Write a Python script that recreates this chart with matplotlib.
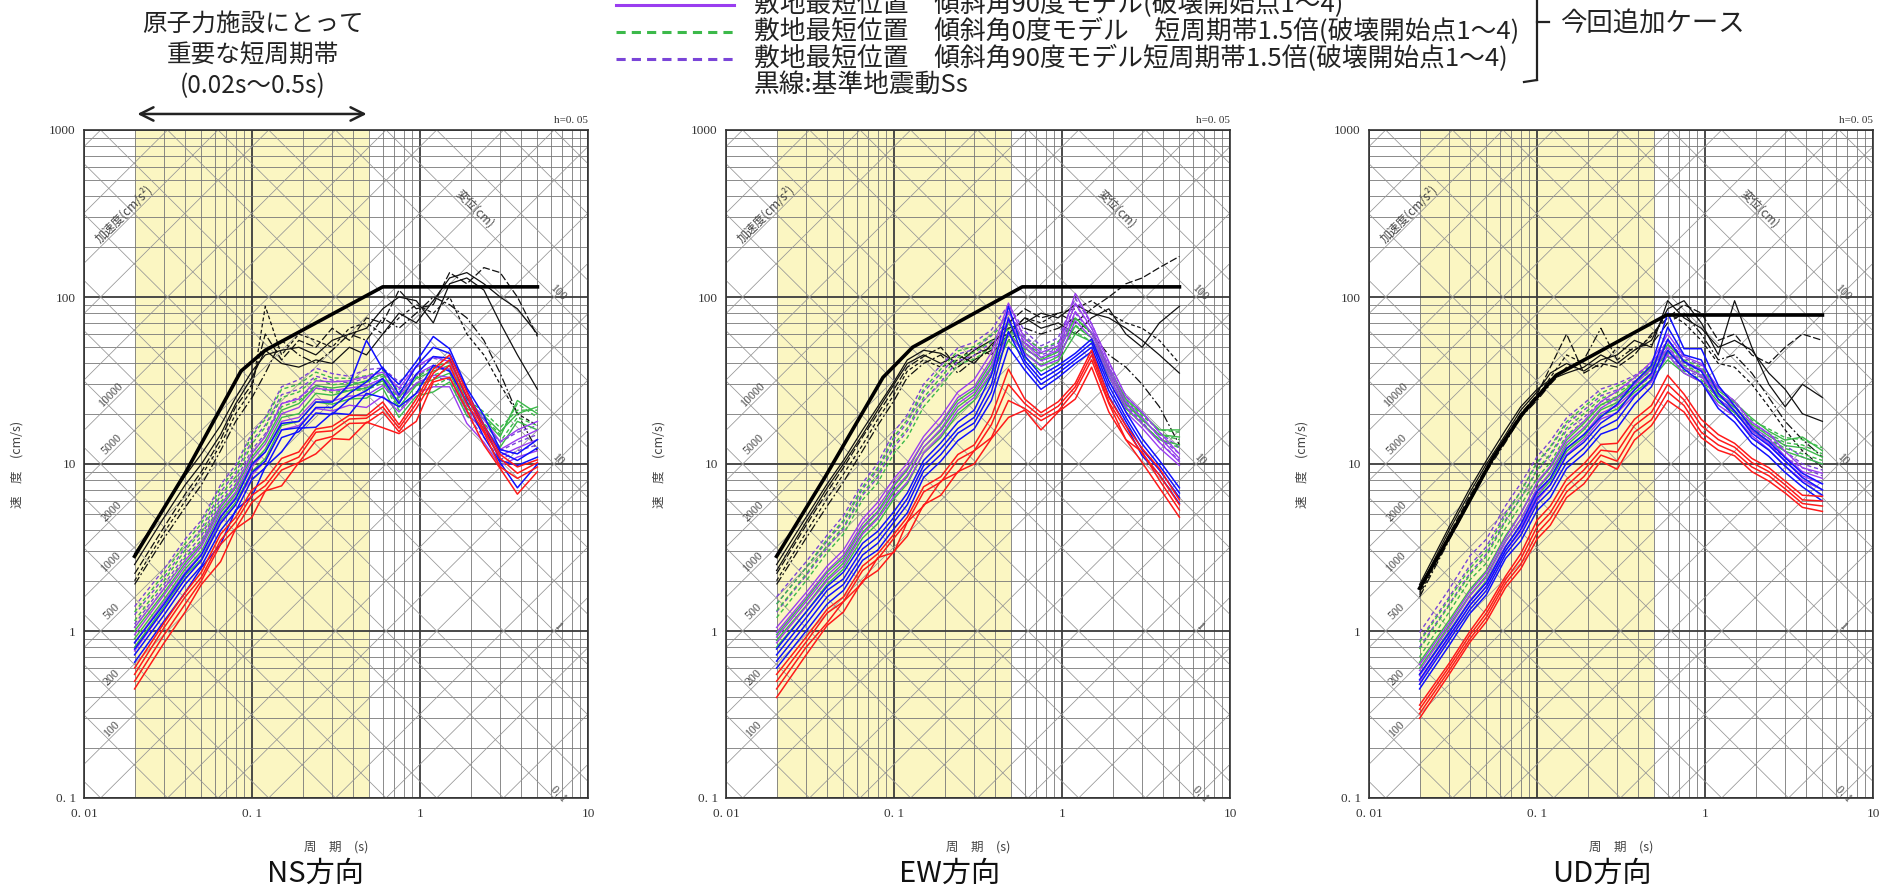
import numpy as np
import matplotlib.pyplot as plt
from matplotlib.lines import Line2D
from matplotlib.ticker import FixedLocator, NullFormatter

plt.rcParams['font.family'] = ['Noto Sans CJK JP', 'DejaVu Sans']

# 周期 (s) - 全曲線共通
PERIODS = [0.02, 0.03, 0.04, 0.05, 0.065, 0.08, 0.1, 0.12, 0.15, 0.19, 0.24, 0.3,
           0.38, 0.48, 0.6, 0.75, 0.95, 1.2, 1.5, 1.9, 2.4, 3.0, 3.8, 5.0]

# 基準地震動Ss (太線)
NS_SS_T = [0.02, 0.04, 0.086, 0.12, 0.6, 5.0]
NS_SS_V = [2.8, 8.8, 36.0, 48.0, 115.0, 115.0]
EW_SS_T = [0.02, 0.039, 0.086, 0.129, 0.58, 5.0]
EW_SS_V = [2.8, 8.4, 33.0, 50.0, 115.0, 115.0]
UD_SS_T = [0.02, 0.033, 0.055, 0.082, 0.13, 0.59, 5.0]
UD_SS_V = [1.8, 4.3, 11.0, 20.0, 34.0, 78.0, 78.0]

# ---------------- NS方向 ----------------
NS_RED = [
    [0.45, 0.85, 1.3, 1.9, 2.6, 4.1, 4.8, 6.9, 7.4, 10.2, 11.5, 14.2, 14.0, 17.8, 16.5, 15.2, 18.0, 31.0, 33.0, 21.0, 13.0, 9.4, 6.6, 9.0],
    [0.50, 0.95, 1.45, 2.0, 3.3, 4.1, 5.9, 6.9, 9.2, 10.2, 13.8, 14.6, 17.5, 17.6, 20.5, 15.6, 21.5, 32.0, 39.0, 23.0, 15.5, 9.6, 8.2, 9.6],
    [0.55, 1.05, 1.6, 2.1, 3.5, 4.5, 6.5, 7.4, 9.9, 11.0, 15.5, 15.8, 18.6, 18.8, 22.0, 16.4, 23.0, 35.0, 42.0, 25.5, 16.0, 10.8, 8.8, 10.2],
    [0.60, 1.12, 1.7, 2.25, 3.8, 4.8, 7.0, 8.0, 10.8, 11.8, 16.2, 16.8, 19.6, 19.5, 23.5, 17.2, 24.5, 37.0, 45.0, 27.0, 17.0, 11.4, 9.6, 10.6],
]
NS_BLUE = [
    [0.65, 1.15, 1.7, 2.4, 3.3, 5.3, 6.4, 9.6, 11.8, 16.4, 16.6, 20.2, 19.8, 26.5, 25.0, 22.0, 26.5, 39.0, 36.0, 23.5, 14.5, 10.2, 7.2, 10.0],
    [0.72, 1.25, 1.9, 2.45, 4.0, 5.2, 8.1, 9.5, 14.4, 15.6, 20.2, 19.8, 24.5, 27.5, 32.5, 23.0, 34.5, 44.0, 43.0, 25.0, 17.0, 10.5, 9.8, 11.0],
    [0.78, 1.35, 2.05, 2.65, 4.4, 5.7, 8.9, 10.4, 16.0, 16.5, 21.8, 21.8, 26.5, 31.0, 38.0, 26.0, 38.5, 50.0, 46.0, 27.5, 17.0, 11.8, 10.5, 12.5],
    [0.85, 1.45, 2.2, 2.85, 4.8, 6.2, 10.0, 11.8, 17.5, 18.0, 23.5, 23.5, 30.0, 55.0, 37.0, 30.0, 41.0, 58.0, 49.0, 28.5, 19.5, 12.2, 11.5, 14.0],
]
NS_PURPLE = [
    [0.76, 1.35, 2.05, 2.65, 4.5, 5.7, 8.6, 10.4, 16.0, 17.0, 21.5, 20.8, 22.5, 21.8, 25.5, 20.5, 26.5, 29.0, 29.0, 17.5, 13.5, 9.7, 11.0, 12.0],
    [0.85, 1.5, 2.25, 2.9, 4.9, 6.3, 9.6, 11.8, 18.0, 19.0, 24.5, 23.8, 25.5, 25.8, 29.5, 23.5, 30.5, 34.0, 33.0, 20.5, 15.5, 11.2, 12.5, 14.0],
    [0.95, 1.65, 2.45, 3.2, 5.3, 6.8, 10.6, 13.2, 20.0, 21.8, 28.5, 27.5, 28.5, 29.5, 32.5, 25.5, 34.5, 39.0, 37.0, 22.5, 17.0, 12.2, 14.0, 16.0],
    [1.05, 1.8, 2.65, 3.4, 5.7, 7.4, 11.6, 14.6, 23.0, 24.5, 31.5, 31.0, 31.5, 33.5, 35.5, 28.5, 38.5, 44.0, 41.0, 25.5, 18.5, 13.6, 16.0, 18.0],
]
NS_GREEN = [
    [0.8, 1.4, 2.15, 2.7, 4.6, 5.9, 9.0, 10.8, 17.0, 18.0, 23.5, 22.8, 24.5, 24.8, 28.5, 19.0, 25.5, 27.0, 31.0, 19.5, 16.5, 12.6, 18.0, 16.0],
    [0.9, 1.55, 2.35, 3.0, 5.1, 6.6, 10.0, 12.3, 19.0, 20.0, 26.5, 25.8, 27.5, 28.5, 31.5, 22.0, 29.5, 32.0, 35.0, 21.5, 18.5, 14.6, 24.0, 20.0],
    [1.0, 1.7, 2.55, 3.3, 5.5, 7.2, 11.0, 13.8, 21.0, 23.0, 29.5, 28.5, 29.5, 31.5, 34.5, 25.0, 32.5, 36.0, 39.0, 23.5, 19.5, 15.6, 20.0, 22.0],
]
NS_GREEN_DASH = [
    [1.05, 1.8, 2.75, 3.5, 5.9, 7.6, 11.6, 14.7, 22.0, 24.0, 28.5, 26.8, 27.5, 27.8, 30.5, 21.0, 27.0, 29.0, 33.0, 20.5, 17.5, 13.6, 19.0, 17.0],
    [1.15, 2.0, 3.05, 3.9, 6.5, 8.4, 13.2, 16.6, 25.0, 27.0, 32.5, 29.8, 30.5, 30.8, 33.5, 24.0, 30.0, 34.0, 37.0, 22.5, 19.0, 15.0, 23.0, 19.0],
    [1.3, 2.2, 3.35, 4.4, 7.2, 9.4, 14.8, 18.5, 28.0, 30.0, 35.5, 32.8, 32.5, 33.8, 36.5, 27.0, 33.0, 38.0, 41.0, 24.5, 20.5, 16.5, 21.0, 21.0],
]
NS_PURPLE_DASH = [
    [1.1, 1.9, 2.85, 3.7, 6.2, 8.0, 12.2, 15.2, 23.0, 25.0, 29.5, 27.8, 27.5, 28.8, 31.5, 25.0, 30.0, 33.0, 32.0, 19.5, 14.5, 10.6, 12.0, 13.0],
    [1.25, 2.1, 3.15, 4.1, 6.8, 8.9, 13.8, 17.1, 26.0, 28.0, 33.5, 31.8, 30.5, 32.8, 34.5, 28.0, 34.0, 38.0, 36.0, 21.5, 16.0, 12.0, 13.5, 15.0],
    [1.4, 2.35, 3.55, 4.6, 7.5, 9.9, 15.3, 19.0, 29.0, 32.0, 37.5, 34.8, 33.5, 36.8, 37.5, 31.0, 38.0, 43.0, 41.0, 24.5, 17.5, 13.5, 15.5, 17.0],
]
NS_BLACK = [
    [2.9, 5.5, 8.5, 11.5, 17.0, 25.0, 36.0, 45.0, 48.0, 50.0, 45.0, 55.0, 60.0, 65.0, 85.0, 100.0, 95.0, 70.0, 120.0, 130.0, 110.0, 70.0, 45.0, 28.0],
    [2.2, 4.2, 6.6, 9.0, 14.0, 22.0, 30.0, 60.0, 42.0, 55.0, 50.0, 65.0, 55.0, 75.0, 70.0, 110.0, 85.0, 90.0, 140.0, 120.0, 150.0, 140.0, 100.0, 58.0],
    [1.9, 3.6, 5.5, 7.5, 12.0, 18.0, 25.0, 35.0, 55.0, 45.0, 40.0, 48.0, 60.0, 55.0, 75.0, 65.0, 80.0, 100.0, 90.0, 75.0, 55.0, 35.0, 20.0, 12.0],
    [2.5, 4.8, 7.5, 10.0, 15.0, 23.0, 33.0, 48.0, 40.0, 38.0, 42.0, 40.0, 50.0, 45.0, 60.0, 80.0, 70.0, 95.0, 130.0, 140.0, 120.0, 100.0, 85.0, 60.0],
    [2.0, 3.9, 6.0, 8.5, 13.0, 20.0, 28.0, 88.0, 45.0, 60.0, 55.0, 50.0, 65.0, 70.0, 60.0, 75.0, 90.0, 80.0, 100.0, 60.0, 45.0, 30.0, 20.0, 17.0],
]

# ---------------- EW方向 ----------------
EW_RED = [
    [0.40, 0.72, 1.08, 1.3, 2.0, 2.3, 3.0, 3.7, 5.7, 6.5, 9.0, 10.0, 14.2, 19.0, 21.0, 16.0, 20.5, 24.5, 38.0, 20.5, 14.0, 10.2, 7.2, 4.8],
    [0.45, 0.80, 1.12, 1.5, 1.95, 2.75, 2.95, 4.5, 5.6, 7.9, 8.9, 12.0, 14.4, 24.0, 21.5, 18.2, 20.8, 27.5, 42.0, 23.0, 14.0, 11.8, 8.0, 5.3],
    [0.50, 0.86, 1.28, 1.5, 2.3, 2.7, 3.6, 4.5, 6.8, 7.8, 10.6, 12.0, 17.2, 30.0, 23.0, 19.2, 22.2, 29.0, 45.0, 23.5, 16.0, 11.6, 8.6, 5.7],
    [0.55, 0.92, 1.35, 1.6, 2.45, 2.9, 3.8, 4.8, 7.3, 8.4, 11.4, 13.0, 19.2, 37.0, 24.5, 20.3, 23.6, 30.5, 48.0, 25.0, 17.0, 12.4, 9.4, 6.1],
]
EW_BLUE = [
    [0.60, 1.0, 1.45, 1.75, 2.65, 3.05, 4.1, 5.1, 8.3, 10.4, 13.8, 16.2, 24.0, 50.0, 36.5, 28.0, 33.0, 40.0, 47.0, 25.5, 17.0, 11.2, 8.6, 5.8],
    [0.66, 1.1, 1.6, 1.9, 2.85, 3.35, 4.5, 5.7, 9.1, 11.4, 15.3, 17.6, 27.0, 62.0, 39.5, 30.0, 35.0, 42.0, 50.0, 27.5, 18.0, 12.2, 9.2, 6.3],
    [0.72, 1.2, 1.75, 2.05, 3.1, 3.65, 4.8, 6.2, 9.8, 12.4, 16.3, 19.0, 30.0, 75.0, 41.5, 32.0, 37.0, 44.0, 53.0, 29.5, 19.0, 13.2, 9.8, 6.7],
    [0.78, 1.3, 1.85, 2.25, 3.35, 3.95, 5.2, 6.7, 10.5, 13.4, 17.8, 21.0, 34.0, 88.0, 44.5, 34.0, 39.0, 46.0, 56.0, 31.5, 20.5, 14.2, 10.5, 7.2],
]
EW_PURPLE = [
    [0.85, 1.4, 2.0, 2.45, 3.8, 4.7, 6.4, 7.8, 11.6, 14.8, 21.0, 25.0, 35.5, 60.0, 46.0, 38.5, 42.0, 72.0, 57.0, 34.0, 20.5, 16.4, 12.5, 9.8],
    [0.92, 1.5, 2.15, 2.65, 4.1, 5.1, 7.0, 8.6, 12.6, 16.2, 23.0, 27.0, 38.5, 72.0, 50.0, 41.5, 45.0, 82.0, 61.0, 36.0, 22.0, 17.4, 13.5, 10.3],
    [0.98, 1.6, 2.3, 2.85, 4.4, 5.5, 7.6, 9.4, 13.6, 17.6, 25.0, 29.0, 42.5, 82.0, 53.0, 43.5, 48.0, 92.0, 65.0, 38.0, 23.5, 19.0, 14.5, 10.8],
    [1.05, 1.7, 2.45, 3.05, 4.7, 5.9, 8.2, 10.1, 14.6, 19.2, 27.0, 32.0, 46.5, 92.0, 56.0, 46.5, 51.0, 105.0, 69.0, 41.0, 25.5, 20.4, 15.5, 11.5],
]
EW_GREEN = [
    [0.8, 1.3, 1.9, 2.35, 3.6, 4.4, 6.2, 7.6, 11.6, 14.4, 20.0, 24.0, 34.5, 55.0, 43.5, 36.0, 41.0, 60.0, 54.0, 33.5, 21.5, 17.4, 14.0, 13.0],
    [0.88, 1.42, 2.05, 2.55, 3.9, 4.8, 6.8, 8.4, 12.6, 15.8, 22.0, 26.0, 37.5, 62.0, 46.5, 39.0, 44.0, 67.0, 57.0, 35.5, 23.0, 18.4, 15.0, 14.5],
    [0.95, 1.55, 2.25, 2.75, 4.2, 5.2, 7.4, 9.2, 13.6, 17.3, 24.0, 28.0, 40.5, 70.0, 49.5, 42.0, 47.0, 75.0, 61.0, 37.5, 24.5, 20.0, 16.0, 16.0],
]
EW_GREEN_DASH = [
    [1.2, 2.0, 2.95, 3.8, 6.1, 7.7, 11.6, 14.4, 22.0, 29.0, 39.5, 42.5, 49.5, 58.0, 48.5, 43.0, 47.0, 62.0, 54.0, 33.5, 21.5, 17.4, 14.0, 12.5],
    [1.32, 2.2, 3.25, 4.2, 6.7, 8.6, 13.1, 16.4, 25.0, 33.0, 43.5, 46.5, 54.5, 64.0, 52.5, 46.0, 50.0, 68.0, 57.0, 35.5, 23.0, 18.4, 15.0, 14.0],
    [1.45, 2.4, 3.55, 4.6, 7.3, 9.5, 14.6, 18.4, 28.0, 37.0, 47.5, 50.5, 59.5, 70.0, 56.5, 49.0, 54.0, 74.0, 61.0, 37.5, 24.5, 19.4, 16.0, 15.5],
]
EW_PURPLE_DASH = [
    [1.3, 2.15, 3.15, 4.1, 6.5, 8.3, 12.6, 15.8, 24.0, 31.0, 41.5, 44.5, 53.5, 70.0, 53.5, 45.0, 49.0, 80.0, 61.0, 36.5, 22.5, 17.9, 13.5, 10.5],
    [1.45, 2.4, 3.45, 4.5, 7.1, 9.2, 14.1, 17.7, 27.0, 35.0, 45.5, 48.5, 58.5, 80.0, 58.5, 48.0, 53.0, 90.0, 65.0, 38.5, 24.0, 18.9, 14.5, 11.5],
    [1.6, 2.6, 3.75, 4.9, 7.7, 10.1, 15.6, 19.7, 30.0, 39.0, 49.5, 53.5, 63.5, 90.0, 62.5, 51.0, 57.0, 98.0, 69.0, 40.5, 25.5, 20.4, 15.5, 12.5],
]
EW_BLACK = [
    [2.5, 4.8, 7.6, 10.5, 16.0, 22.0, 31.0, 42.0, 48.0, 46.0, 40.0, 48.0, 55.0, 60.0, 75.0, 65.0, 70.0, 60.0, 75.0, 85.0, 60.0, 50.0, 70.0, 88.0],
    [2.2, 4.3, 6.8, 9.5, 14.5, 20.0, 28.0, 38.0, 44.0, 50.0, 38.0, 45.0, 50.0, 70.0, 85.0, 75.0, 80.0, 70.0, 85.0, 100.0, 120.0, 130.0, 150.0, 175.0],
    [1.9, 3.6, 5.6, 7.8, 12.0, 17.0, 24.0, 33.0, 40.0, 45.0, 35.0, 42.0, 48.0, 55.0, 65.0, 60.0, 65.0, 75.0, 60.0, 45.0, 38.0, 30.0, 22.0, 13.0],
    [2.3, 4.5, 7.2, 10.0, 15.0, 21.0, 30.0, 40.0, 45.0, 40.0, 45.0, 40.0, 52.0, 65.0, 70.0, 80.0, 75.0, 90.0, 80.0, 75.0, 65.0, 55.0, 45.0, 35.0],
    [2.0, 3.9, 6.2, 8.7, 13.0, 18.5, 26.0, 36.0, 42.0, 38.0, 42.0, 50.0, 45.0, 60.0, 75.0, 70.0, 80.0, 85.0, 95.0, 80.0, 70.0, 65.0, 55.0, 40.0],
]

# ---------------- UD方向 ----------------
UD_RED = [
    [0.30, 0.55, 0.86, 1.14, 1.82, 2.35, 3.55, 4.3, 6.3, 7.6, 10.4, 9.3, 13.9, 17.0, 24.0, 20.5, 14.4, 12.1, 11.2, 9.0, 7.9, 6.7, 5.5, 5.2],
    [0.32, 0.58, 0.9, 1.21, 1.93, 2.5, 3.85, 4.7, 6.8, 8.4, 11.3, 10.4, 15.5, 18.4, 27.0, 22.4, 15.5, 13.0, 11.8, 9.6, 8.5, 7.1, 5.8, 5.6],
    [0.34, 0.61, 0.95, 1.28, 2.03, 2.7, 4.2, 5.1, 7.4, 9.2, 12.1, 11.8, 17.0, 20.4, 30.0, 24.2, 17.0, 14.0, 12.6, 10.2, 9.0, 7.5, 6.1, 6.0],
    [0.36, 0.64, 1.0, 1.36, 2.13, 2.9, 4.6, 5.6, 8.1, 10.0, 13.1, 13.3, 18.5, 22.4, 34.0, 26.2, 18.5, 15.0, 13.3, 10.8, 9.5, 7.9, 6.5, 6.4],
]
UD_BLUE = [
    [0.45, 0.82, 1.28, 1.65, 2.72, 3.45, 5.25, 6.3, 9.4, 11.5, 15.1, 16.4, 22.8, 29.0, 48.0, 37.0, 31.0, 21.5, 17.8, 13.3, 11.1, 8.9, 7.3, 6.0],
    [0.48, 0.88, 1.35, 1.75, 2.88, 3.75, 5.75, 6.9, 10.2, 12.5, 16.4, 18.4, 25.3, 32.0, 56.0, 41.0, 36.0, 24.5, 19.3, 14.3, 12.1, 9.7, 7.8, 6.5],
    [0.51, 0.93, 1.43, 1.85, 3.03, 4.05, 6.25, 7.5, 11.2, 13.5, 17.6, 20.4, 27.8, 35.0, 66.0, 45.0, 42.0, 26.5, 20.8, 15.3, 12.9, 10.4, 8.3, 7.0],
    [0.55, 0.98, 1.51, 1.95, 3.18, 4.35, 6.85, 8.2, 12.4, 15.0, 19.1, 22.8, 30.8, 39.0, 80.0, 49.0, 49.0, 29.5, 22.3, 16.3, 13.6, 10.9, 8.8, 7.6],
]
UD_PURPLE = [
    [0.50, 0.92, 1.43, 1.85, 3.02, 3.95, 6.05, 7.5, 11.4, 14.0, 18.6, 20.3, 25.8, 31.0, 45.0, 35.0, 31.0, 22.5, 19.3, 14.8, 12.2, 9.7, 8.0, 7.0],
    [0.54, 0.98, 1.53, 1.95, 3.22, 4.25, 6.55, 8.2, 12.4, 15.0, 20.1, 22.3, 27.8, 34.0, 50.0, 38.0, 34.0, 24.5, 20.8, 15.8, 13.2, 10.4, 8.5, 7.6],
    [0.58, 1.05, 1.63, 2.1, 3.42, 4.65, 7.15, 8.9, 13.4, 16.5, 21.6, 24.8, 29.8, 37.0, 55.0, 41.0, 37.0, 26.5, 22.3, 16.8, 14.2, 11.1, 9.0, 8.2],
    [0.63, 1.12, 1.73, 2.25, 3.62, 5.05, 7.75, 9.7, 14.4, 18.0, 23.6, 27.3, 32.8, 41.0, 60.0, 44.0, 40.0, 28.5, 23.8, 17.8, 15.2, 11.9, 9.5, 8.8],
]
UD_GREEN = [
    [0.55, 1.0, 1.53, 2.0, 3.22, 4.25, 6.45, 7.9, 11.9, 14.5, 19.6, 21.3, 26.8, 32.0, 42.0, 35.0, 31.0, 23.5, 20.3, 15.8, 13.7, 11.9, 11.0, 10.0],
    [0.6, 1.08, 1.65, 2.15, 3.47, 4.65, 7.05, 8.7, 12.9, 16.0, 21.1, 23.3, 28.8, 35.0, 47.0, 38.0, 34.0, 25.5, 21.8, 17.3, 14.7, 12.9, 12.5, 11.0],
    [0.65, 1.16, 1.78, 2.3, 3.72, 5.05, 7.65, 9.5, 13.9, 17.5, 22.6, 25.3, 30.8, 38.0, 52.0, 41.0, 37.0, 27.5, 23.3, 18.8, 15.7, 13.9, 14.5, 12.0],
]
UD_GREEN_DASH = [
    [0.70, 1.3, 2.03, 2.55, 4.13, 5.65, 8.25, 10.2, 14.9, 18.0, 22.6, 24.3, 28.8, 33.0, 44.0, 36.0, 32.0, 24.5, 20.8, 16.3, 14.2, 12.4, 11.5, 10.5],
    [0.78, 1.42, 2.18, 2.8, 4.53, 6.25, 9.25, 11.5, 16.4, 20.0, 24.6, 26.8, 30.8, 36.0, 48.0, 39.0, 35.0, 26.5, 22.3, 17.3, 15.2, 13.4, 13.0, 11.5],
    [0.86, 1.55, 2.38, 3.05, 4.93, 6.85, 10.25, 12.7, 17.9, 22.0, 26.6, 29.3, 32.8, 39.0, 52.0, 42.0, 38.0, 28.5, 23.8, 18.3, 16.2, 14.4, 14.0, 12.5],
]
UD_PURPLE_DASH = [
    [0.80, 1.45, 2.23, 2.9, 4.63, 6.25, 9.05, 11.2, 15.9, 19.0, 23.6, 25.3, 28.8, 34.0, 46.0, 37.0, 33.0, 24.5, 20.3, 15.8, 13.2, 10.9, 9.5, 8.5],
    [0.88, 1.6, 2.48, 3.2, 5.13, 6.85, 10.05, 12.5, 17.4, 21.0, 25.6, 27.8, 31.3, 37.0, 50.0, 40.0, 36.0, 26.5, 21.8, 16.8, 14.2, 11.9, 10.0, 9.2],
    [0.98, 1.78, 2.83, 3.55, 5.63, 7.65, 11.05, 13.7, 18.9, 23.0, 28.1, 30.3, 33.8, 40.0, 55.0, 43.0, 39.0, 28.5, 23.3, 17.8, 15.2, 12.9, 11.0, 10.0],
]
UD_BLACK = [
    [1.9, 4.2, 7.2, 10.5, 16.0, 22.0, 28.0, 32.0, 35.0, 38.0, 45.0, 40.0, 48.0, 55.0, 85.0, 95.0, 70.0, 45.0, 95.0, 50.0, 30.0, 22.0, 30.0, 25.0],
    [1.7, 3.8, 6.5, 9.5, 14.5, 20.0, 26.0, 38.0, 60.0, 35.0, 40.0, 38.0, 45.0, 60.0, 75.0, 90.0, 80.0, 55.0, 60.0, 45.0, 40.0, 50.0, 60.0, 55.0],
    [1.6, 3.5, 6.0, 9.0, 13.5, 19.0, 24.0, 30.0, 38.0, 42.0, 65.0, 42.0, 50.0, 52.0, 70.0, 80.0, 60.0, 42.0, 45.0, 35.0, 25.0, 18.0, 14.0, 11.0],
    [1.8, 4.0, 6.8, 10.0, 15.0, 21.0, 27.0, 35.0, 40.0, 36.0, 42.0, 45.0, 55.0, 50.0, 95.0, 75.0, 65.0, 50.0, 55.0, 48.0, 35.0, 28.0, 20.0, 18.0],
    [1.65, 3.6, 6.2, 9.2, 14.0, 19.5, 25.0, 33.0, 45.0, 40.0, 38.0, 50.0, 48.0, 58.0, 80.0, 70.0, 55.0, 40.0, 38.0, 30.0, 22.0, 16.0, 12.0, 9.5],
]

ACC_LABELS = [100, 200, 500, 1000, 2000, 5000, 10000]
DISP_LABELS = [(0.1, '0. 1'), (1, '1'), (10, '10'), (100, '100')]

RED = '#ff1a1a'
BLUE = '#1010ff'
PURPLE = '#9a3df0'
GREEN = '#3cb94a'
PURPLE_D = '#7a45d8'

W, H = 1881, 893
fig = plt.figure(figsize=(W / 100, H / 100), dpi=100)


def fx(px):
    return px / W


def fy(py):
    return 1 - py / H


SERIF = 'Liberation Serif'


def draw_panel(left, ss_t, ss_v, red, blue, purple, green, green_d, purple_d, black):
    ax = fig.add_axes([fx(left), fy(798), 504 / W, 668 / H])
    ax.set_xscale('log')
    ax.set_yscale('log')
    ax.set_xlim(0.01, 10)
    ax.set_ylim(0.1, 1000)
    ax.set_axisbelow(True)

    # 短周期帯 (0.02s～0.5s)
    ax.axvspan(0.02, 0.5, color='#fbf6c2', lw=0, zorder=0.1)

    ax.xaxis.set_major_locator(FixedLocator([0.01, 0.1, 1, 10]))
    ax.yaxis.set_major_locator(FixedLocator([0.1, 1, 10, 100, 1000]))
    xmin = [m * 10.0 ** k for k in range(-2, 1) for m in range(2, 10)]
    ymin = [m * 10.0 ** k for k in range(-1, 3) for m in range(2, 10)]
    ax.xaxis.set_minor_locator(FixedLocator(xmin))
    ax.yaxis.set_minor_locator(FixedLocator(ymin))
    ax.xaxis.set_minor_formatter(NullFormatter())
    ax.yaxis.set_minor_formatter(NullFormatter())
    ax.set_xticklabels(['0. 01', '0. 1', '1', '10'], fontfamily=SERIF, fontsize=9.5, color='#333')
    ax.set_yticklabels(['0. 1', '1', '10', '100', '1000'], fontfamily=SERIF, fontsize=9.5, color='#333')
    ax.tick_params(which='both', length=0)
    ax.tick_params(axis='x', pad=7)
    ax.tick_params(axis='y', pad=6)
    ax.grid(which='major', color='#3c3c3c', lw=1.3)
    ax.grid(which='minor', color='#777777', lw=0.6)
    for s in ax.spines.values():
        s.set_color('#333')
        s.set_linewidth(1.2)

    # 三軸グラフの斜線 (加速度・変位)
    tt = np.array([0.01, 10.0])
    for k in range(-2, 7):
        for m in (1, 2, 5):
            sa = m * 10.0 ** k
            ax.plot(tt, sa * tt / (2 * np.pi), color='#959595', lw=0.55, zorder=0.6)
    for k in range(-5, 4):
        for m in (1, 2, 5):
            sd = m * 10.0 ** k
            ax.plot(tt, 2 * np.pi * sd / tt, color='#959595', lw=0.55, zorder=0.6)

    for sa in ACC_LABELS:
        t0 = 0.0155
        ax.text(t0, sa * t0 / (2 * np.pi), str(sa), rotation=45, rotation_mode='anchor',
                ha='center', va='bottom', fontfamily=SERIF, fontsize=8.5, color='#444', zorder=3)
    t0 = 0.0185
    ax.text(t0, 1e5 * t0 / (2 * np.pi), '加速度(cm/s²)', rotation=45, rotation_mode='anchor',
            ha='center', va='bottom', fontsize=8.5, color='#444', zorder=3)
    for sd, lab in DISP_LABELS:
        t0 = 6.3
        ax.text(t0, 2 * np.pi * sd / t0, lab, rotation=-45, rotation_mode='anchor',
                ha='center', va='bottom', fontfamily=SERIF, fontsize=8.5, color='#444', zorder=3)
    t0 = 2.0
    ax.text(t0, 2 * np.pi * 100 / t0, '変位(cm)', rotation=-45, rotation_mode='anchor',
            ha='center', va='bottom', fontsize=8.5, color='#444', zorder=3)

    styles = ['-', (0, (6, 2)), (0, (7, 2, 1.5, 2)), '-', (0, (3, 2))]
    for i, c in enumerate(black):
        ax.plot(PERIODS, c, color='#111', lw=0.9, ls=styles[i % len(styles)], zorder=2)
    for c in purple_d:
        ax.plot(PERIODS, c, color=PURPLE_D, lw=1.0, ls=(0, (3, 2)), zorder=2.2)
    for c in green_d:
        ax.plot(PERIODS, c, color=GREEN, lw=1.0, ls=(0, (3, 2)), zorder=2.2)
    for c in green:
        ax.plot(PERIODS, c, color=GREEN, lw=1.0, zorder=2.4)
    for c in purple:
        ax.plot(PERIODS, c, color=PURPLE, lw=1.0, zorder=2.5)
    for c in blue:
        ax.plot(PERIODS, c, color=BLUE, lw=1.1, zorder=2.6)
    for c in red:
        ax.plot(PERIODS, c, color=RED, lw=1.1, zorder=2.7)
    ax.plot(ss_t, ss_v, color='black', lw=2.6, zorder=4)

    ax.text(1.0, 1.008, 'h=0. 05', transform=ax.transAxes, ha='right', va='bottom',
            fontfamily=SERIF, fontsize=8, color='#333')
    ax.set_xlabel('周　期　(s)', fontsize=9, color='#444')
    ax.xaxis.set_label_coords(0.5, -0.063)
    ax.set_ylabel('速　度　(cm/s)', fontsize=9, color='#444')
    ax.yaxis.set_label_coords(-0.12, 0.5)
    return ax


ax1 = draw_panel(84, NS_SS_T, NS_SS_V, NS_RED, NS_BLUE, NS_PURPLE, NS_GREEN,
                 NS_GREEN_DASH, NS_PURPLE_DASH, NS_BLACK)
ax2 = draw_panel(726, EW_SS_T, EW_SS_V, EW_RED, EW_BLUE, EW_PURPLE, EW_GREEN,
                 EW_GREEN_DASH, EW_PURPLE_DASH, EW_BLACK)
ax3 = draw_panel(1369, UD_SS_T, UD_SS_V, UD_RED, UD_BLUE, UD_PURPLE, UD_GREEN,
                 UD_GREEN_DASH, UD_PURPLE_DASH, UD_BLACK)

# 方向のタイトル
for x, name in [(315, 'NS方向'), (950, 'EW方向'), (1602, 'UD方向')]:
    fig.text(fx(x), fy(874), name, ha='center', va='center', fontsize=21, color='#111')

# 重要な短周期帯の注記と矢印
for y, s in [(24, '原子力施設にとって'), (56, '重要な短周期帯'), (86, '(0.02s～0.5s)')]:
    fig.text(fx(253), fy(y), s, ha='center', va='center', fontsize=17.7, color='#222')
ax1.annotate('', xy=(0.5, 1.024), xytext=(0.02, 1.024),
             xycoords=('data', 'axes fraction'), textcoords=('data', 'axes fraction'),
             arrowprops=dict(arrowstyle='<->', lw=1.8, color='#222', mutation_scale=24))

# 凡例 (上部)
legend_rows = [
    (5, PURPLE, '-', '敷地最短位置　傾斜角90度モデル(破壊開始点1～4)'),
    (32, GREEN, (0, (3, 2)), '敷地最短位置　傾斜角0度モデル　短周期帯1.5倍(破壊開始点1～4)'),
    (59, PURPLE_D, (0, (3, 2)), '敷地最短位置　傾斜角90度モデル短周期帯1.5倍(破壊開始点1～4)'),
]
for y, col, ls, s in legend_rows:
    fig.add_artist(Line2D([fx(616), fx(734)], [fy(y), fy(y)], color=col, ls=ls, lw=2.2))
    fig.text(fx(754), fy(y), s, ha='left', va='center', fontsize=18.5, color='#222')
fig.text(fx(754), fy(86), '黒線:基準地震動Ss', ha='left', va='center', fontsize=18.5, color='#222')

# 右側の括弧
bk = dict(color='#222', lw=1.6)
fig.add_artist(Line2D([fx(1537), fx(1537)], [fy(-5), fy(80)], **bk))
fig.add_artist(Line2D([fx(1524), fx(1537)], [fy(82), fy(80)], **bk))
fig.add_artist(Line2D([fx(1537), fx(1549)], [fy(22), fy(22)], **bk))
fig.text(fx(1560), fy(24), '今回追加ケース', ha='left', va='center', fontsize=19, color='#222')

fig.savefig('out.png', dpi=100)
